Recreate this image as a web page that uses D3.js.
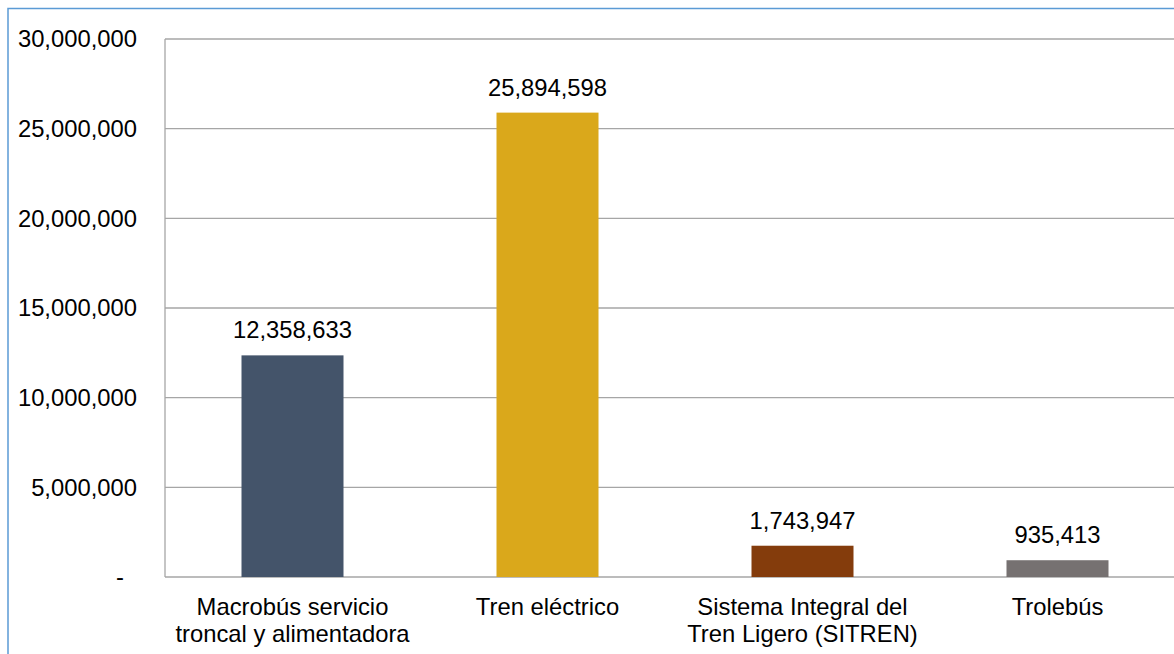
<!DOCTYPE html>
<html><head><meta charset="utf-8">
<script src="https://cdn.jsdelivr.net/npm/d3@7"></script>
<style>body{margin:0;background:#fff;} svg{display:block;font-family:"Liberation Sans",Arial,sans-serif;}</style>
</head><body>
<script>
const categories = [["Macrobús servicio","troncal y alimentadora"],["Tren eléctrico"],["Sistema Integral del","Tren Ligero (SITREN)"],["Trolebús"]];
const values = [12358633, 25894598, 1743947, 935413];
const colors = ["#44546A", "#DAA81B", "#843C0C", "#767171"];
const tickValues = [0, 5000000, 10000000, 15000000, 20000000, 25000000, 30000000];

(function(){
const W = 1174, H = 654;
const FS = 23.8;
const svg = d3.select("body").append("svg").attr("width", W).attr("height", H);

svg.append("rect").attr("x", 8).attr("y", 8.5).attr("width", 1300).attr("height", 800)
  .attr("fill", "none").attr("stroke", "#5B9BD5").attr("stroke-width", 1.5);

const pLeft = 165, pRight = 1185, pTop = 39, pBottom = 577;
const x = d3.scaleBand().domain(d3.range(categories.length)).range([pLeft, pRight]).paddingInner(0.6).paddingOuter(0.3);
const y = d3.scaleLinear().domain([0, 30000000]).range([pBottom, pTop]);
const fmt = d3.format(",");

svg.append("g").selectAll("line").data(tickValues).join("line")
  .attr("x1", pLeft).attr("x2", W).attr("y1", d => y(d)).attr("y2", d => y(d))
  .attr("stroke", "#A6A6A6").attr("stroke-width", 1.3);
svg.append("line").attr("x1", pLeft).attr("x2", pLeft).attr("y1", pTop).attr("y2", pBottom)
  .attr("stroke", "#A6A6A6").attr("stroke-width", 1.3);

svg.append("g").selectAll("text").data(tickValues).join("text")
  .attr("x", d => d === 0 ? 124 : 137).attr("y", d => y(d)).attr("dy", "0.35em")
  .attr("text-anchor", "end").attr("font-size", FS).attr("fill", "#000")
  .text(d => d === 0 ? "-" : fmt(d));

svg.append("g").selectAll("rect").data(values).join("rect")
  .attr("x", (d, i) => x(i)).attr("width", x.bandwidth())
  .attr("y", d => y(d)).attr("height", d => pBottom - y(d))
  .attr("fill", (d, i) => colors[i]);

svg.append("g").selectAll("text").data(values).join("text")
  .attr("x", (d, i) => x(i) + x.bandwidth() / 2).attr("y", d => y(d) - 17)
  .attr("text-anchor", "middle").attr("font-size", FS).attr("fill", "#000")
  .text(d => fmt(d));

const cg = svg.append("g").selectAll("text").data(categories).join("text")
  .attr("x", (d, i) => x(i) + x.bandwidth() / 2).attr("y", pBottom + 38)
  .attr("text-anchor", "middle").attr("font-size", FS).attr("fill", "#000");
cg.selectAll("tspan").data(d => d).join("tspan")
  .attr("x", function() { return this.parentNode.getAttribute("x"); })
  .attr("dy", (d, i) => i === 0 ? 0 : 26.7)
  .text(d => d);
})();
</script>
</body></html>
